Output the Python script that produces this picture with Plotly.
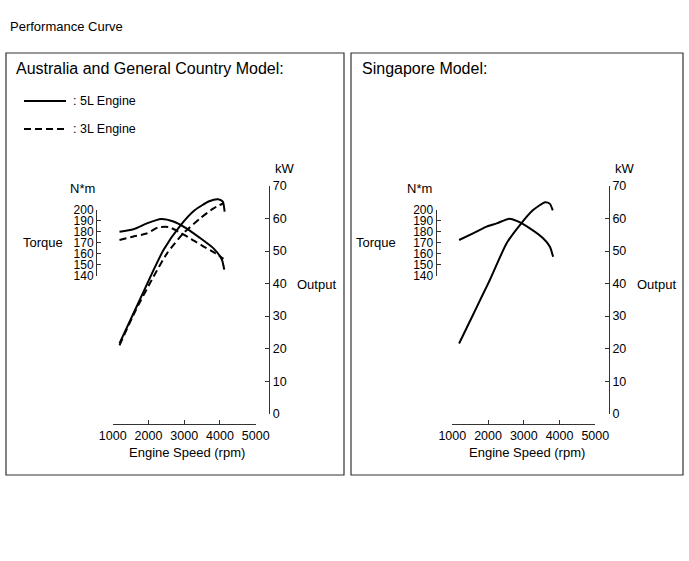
import plotly.graph_objects as go

W, H = 689, 561

# ---------------- data ----------------
speed_ticks = [1000, 2000, 3000, 4000, 5000]
torque_ticks = [140, 150, 160, 170, 180, 190, 200]
output_ticks = [0, 10, 20, 30, 40, 50, 60, 70]

# Australia and General Country Model
rpm_5l_torque = [1190, 1580, 1960, 2350, 2700, 3050, 3400, 3820, 4050, 4120]
torque_5l = [180.2, 182.4, 187.8, 191.8, 189.5, 183.5, 175.5, 165.0, 155.0, 145.5]
rpm_3l_torque = [1190, 1600, 1950, 2280, 2560, 2880, 3200, 3500, 3820, 4100]
torque_3l = [172.6, 176.0, 178.5, 184.2, 184.5, 179.5, 173.5, 167.5, 161.5, 155.5]
rpm_5l_output = [1190, 1550, 1850, 2050, 2420, 2890, 3300, 3700, 3950, 4080, 4130]
output_5l = [21.6, 30.1, 37.2, 42.0, 50.3, 57.8, 62.6, 65.3, 65.9, 65.2, 62.1]
rpm_3l_output = [1190, 1630, 2140, 2520, 2980, 3450, 3820, 4100]
output_3l = [21.0, 31.5, 42.1, 49.3, 55.5, 60.1, 63.1, 64.7]

# Singapore Model
rpm_sg_torque = [1190, 1580, 1960, 2240, 2600, 2800, 3170, 3540, 3730, 3820]
torque_sg = [172.6, 178.7, 184.8, 187.8, 192.0, 190.0, 183.3, 174.2, 166.5, 157.3]
rpm_sg_output = [1190, 1540, 1860, 2050, 2520, 2890, 3260, 3600, 3730, 3810]
output_sg = [21.6, 29.5, 36.8, 41.1, 52.4, 58.0, 62.6, 65.0, 64.5, 62.5]

# ---------------- helpers ----------------
def px(x):
    return x / W

def py(y):
    return 1 - y / H

FONT = "Liberation Sans, Arial, sans-serif"
BLACK = "#000000"
AX = "#333333"
DASH = "7px,4px"

fig = go.Figure()

def line(xs, ys, xa, ya, dash=None):
    fig.add_trace(go.Scatter(
        x=xs, y=ys, xaxis=xa, yaxis=ya, mode="lines",
        line=dict(color=BLACK, width=2, shape="spline", smoothing=0.6,
                  dash=dash if dash else "solid"),
        showlegend=False, hoverinfo="skip"))

# left panel
line(rpm_5l_torque, torque_5l, "x", "y2")
line(rpm_3l_torque, torque_3l, "x", "y2", DASH)
line(rpm_5l_output, output_5l, "x", "y")
line(rpm_3l_output, output_3l, "x", "y", DASH)
# right panel
line(rpm_sg_torque, torque_sg, "x2", "y4")
line(rpm_sg_output, output_sg, "x2", "y3")

tickfont = dict(family=FONT, size=12.5, color=BLACK)
tqfont = dict(family=FONT, size=12, color=BLACK)

def xaxis(x0, x1, ypos):
    return dict(domain=[px(x0), px(x1)], range=[1000, 5000], anchor="free",
                position=py(ypos), showline=True, linecolor=AX, linewidth=1,
                ticks="inside", ticklen=4, tickcolor=AX, tickvals=speed_ticks,
                ticktext=[str(v) for v in speed_ticks], tickfont=tickfont,
                showgrid=False, zeroline=False, fixedrange=True)

def out_axis(xpos):
    return dict(domain=[py(413.7), py(186)], range=[0, 70], anchor="free",
                position=px(xpos), side="right", showline=True, linecolor=AX,
                linewidth=1, ticks="inside", ticklen=4, tickcolor=AX,
                tickvals=output_ticks, tickfont=tickfont, showgrid=False,
                zeroline=False, fixedrange=True)

def tq_axis(xpos):
    return dict(domain=[py(275.7), py(210)], range=[140, 200], anchor="free",
                position=px(xpos), side="left", showline=True, linecolor=AX,
                linewidth=1, ticks="inside", ticklen=4, tickcolor=AX,
                tickvals=torque_ticks, tickfont=tqfont, showgrid=False,
                zeroline=False, fixedrange=True)

OFF = 339.6

annotations = []
def txt(t, x, y, size=13, xanchor="center"):
    annotations.append(dict(text=t, x=px(x), y=py(y), xref="paper", yref="paper",
                            showarrow=False, xanchor=xanchor, yanchor="middle",
                            font=dict(family=FONT, size=size, color=BLACK)))

txt("Performance Curve", 8, 27, 13, "left")
txt("Australia and General Country Model:", 14, 68, 16, "left")
txt("Singapore Model:", 360, 68, 16, "left")
txt(": 5L Engine", 71, 101, 12.5, "left")
txt(": 3L Engine", 71, 129, 12.5, "left")
for off in (0, OFF):
    txt("N*m", 82 + off - (2 if off else 0), 188)
    txt("kW", 285 + off, 168)
    txt("Torque", 42.5 + off - (6 if off else 0), 243)
    txt("Output", 316.5 + off, 284)
    txt("Engine Speed (rpm)", 187 + off, 452)

shapes = [
    dict(type="rect", xref="paper", yref="paper", x0=px(6), x1=px(344),
         y0=py(475), y1=py(53), line=dict(color="#333333", width=1.2)),
    dict(type="rect", xref="paper", yref="paper", x0=px(351), x1=px(683),
         y0=py(475), y1=py(53), line=dict(color="#333333", width=1.2)),
    dict(type="line", xref="paper", yref="paper", x0=px(24), x1=px(66),
         y0=py(101), y1=py(101), line=dict(color=BLACK, width=2)),
    dict(type="line", xref="paper", yref="paper", x0=px(24), x1=px(66),
         y0=py(129), y1=py(129), line=dict(color=BLACK, width=2, dash=DASH)),
]

fig.update_layout(
    width=W, height=H,
    margin=dict(l=0, r=0, t=0, b=0, pad=0, autoexpand=False),
    paper_bgcolor="white", plot_bgcolor="rgba(0,0,0,0)",
    font=dict(family=FONT, color=BLACK),
    xaxis=xaxis(112.7, 255.7, 424),
    xaxis2=xaxis(112.7 + OFF, 255.7 + OFF, 424),
    yaxis=out_axis(269.3),
    yaxis2=tq_axis(96),
    yaxis3=out_axis(269.3 + OFF),
    yaxis4=tq_axis(96 + OFF),
    annotations=annotations, shapes=shapes, showlegend=False,
)
fig.write_html(
    "out.html",
    config={"displayModeBar": False},
    post_script="document.body.style.margin='0';document.body.style.overflow='hidden';",
)
